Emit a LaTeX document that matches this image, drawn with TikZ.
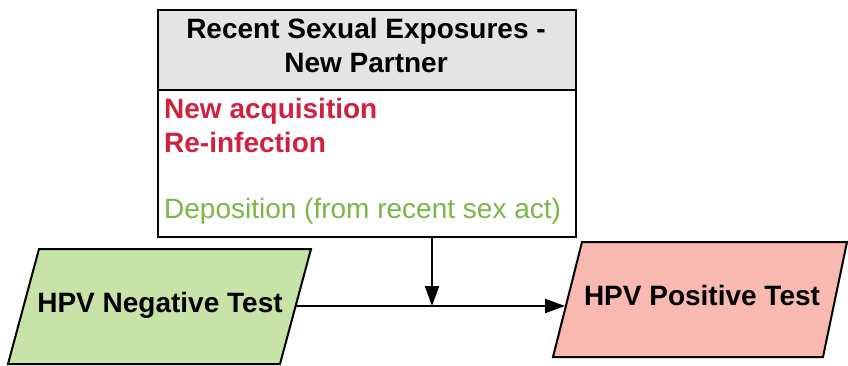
\documentclass[tikz,border=0pt]{standalone}
\usepackage{fontspec}
\setmainfont{Liberation Sans}
\usetikzlibrary{arrows.meta}
\definecolor{hdrgray}{HTML}{E4E4E4}
\definecolor{negfill}{HTML}{C8E3A8}
\definecolor{posfill}{HTML}{F8BAB0}
\definecolor{redtxt}{HTML}{D0213F}
\definecolor{greentxt}{HTML}{7AB648}
\tikzset{
  frame/.style={draw=black, line width=2pt},
  bigtxt/.style={font=\fontsize{28}{33.6}\selectfont, inner sep=0pt},
  conn/.style={line width=2pt, -{Triangle[length=20pt,width=14pt]}},
}
\begin{document}
\begin{tikzpicture}[x=1pt,y=-1pt]
\useasboundingbox (0,0) rectangle (848,365);
% top box
\node[frame, fill=hdrgray, minimum width=418pt, minimum height=80pt, anchor=north west, inner sep=0pt] (hdr) at (157,9) {};
\node[frame, fill=white, minimum width=418pt, minimum height=147pt, anchor=north west, inner sep=0pt] (body) at (157,89) {};
\node[bigtxt, anchor=base, font=\fontsize{28}{33.6}\selectfont\bfseries] (h1) at (366,38) {Recent Sexual Exposures -};
\node[bigtxt, anchor=base, font=\fontsize{28}{33.6}\selectfont\bfseries] (h2) at (366,72) {New Partner};
\node[bigtxt, anchor=base west, text=redtxt, font=\fontsize{28}{33.6}\selectfont\bfseries] (t1) at (164,118) {New acquisition};
\node[bigtxt, anchor=base west, text=redtxt, font=\fontsize{28}{33.6}\selectfont\bfseries] (t2) at (164,152) {Re-infection};
\node[bigtxt, anchor=base west, text=greentxt] (t3) at (164,218) {Deposition (from recent sex act)};
% negative test parallelogram
\coordinate (nTL) at (39,249);
\coordinate (nTR) at (311,249);
\coordinate (nBR) at (280,364);
\coordinate (nBL) at (8,364);
\draw[frame, fill=negfill, line join=miter] (nTL) -- (nTR) -- (nBR) -- (nBL) -- cycle;
\node[bigtxt, anchor=base, font=\fontsize{28}{33.6}\selectfont\bfseries] (neg) at (160,312) {HPV Negative Test};
% positive test parallelogram
\coordinate (pTL) at (582,242);
\coordinate (pTR) at (847,242);
\coordinate (pBR) at (823,357);
\coordinate (pBL) at (553,357);
\draw[frame, fill=posfill, line join=miter] (pTL) -- (pTR) -- (pBR) -- (pBL) -- cycle;
\node[bigtxt, anchor=base, font=\fontsize{28}{33.6}\selectfont\bfseries] (pos) at (702,305) {HPV Positive Test};
% connectors
\coordinate (nR) at (296,306);
\coordinate (pL) at (565,306);
\coordinate (j) at (432,306);
\draw[conn] (nR) -- (pL);
\draw[conn] (body.south -| j) -- (j);
\end{tikzpicture}
\end{document}
